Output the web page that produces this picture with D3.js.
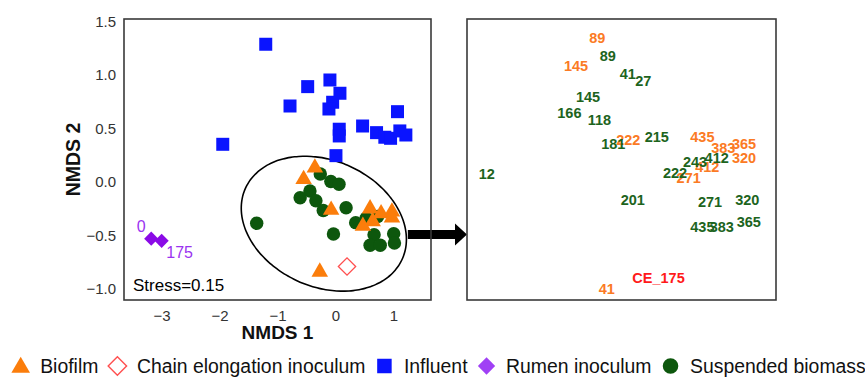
<!DOCTYPE html>
<html>
<head>
<meta charset="utf-8">
<script src="https://cdn.jsdelivr.net/npm/d3@7"></script>
<style>
  body { margin: 0; background: #fff; }
  svg { display: block; font-family: "Liberation Sans", Arial, sans-serif; }
</style>
</head>
<body>
<svg id="chart" width="865" height="377"></svg>
<script>
// ---- data (NMDS scores) ----
const biofilmLabels = ['89', '145', '222', '435', '383', '365', '320', '412', '271', '41'];
const biofilmX = [-0.355, -0.549, -0.074, 0.598, 0.788, 0.976, 0.976, 0.643, 0.474, -0.270];
const biofilmY = [0.143, 0.035, -0.253, -0.240, -0.285, -0.269, -0.324, -0.359, -0.402, -0.831];

const suspendedLabels = ['89', '41', '27', '145', '166', '118', '181', '215', '12', '243', '412', '222', '201', '271', '320', '365', '435', '383'];
const suspendedX = [-0.261, -0.079, 0.062, -0.440, -0.609, -0.337, -0.210, 0.184, -1.359, 0.531, 0.728, 0.350, -0.034, 0.667, 1.006, 1.019, 0.598, 0.774];
const suspendedY = [0.075, 0.004, -0.022, -0.085, -0.147, -0.175, -0.266, -0.240, -0.386, -0.338, -0.322, -0.380, -0.487, -0.493, -0.484, -0.571, -0.591, -0.591];

const influentX = [-1.203, -0.479, -0.095, 0.078, -0.048, -0.112, -0.784, -1.945, 0.066, 0.066, 0.009, 0.469, 0.710, 0.853, 0.952, 1.072, 1.112, 1.216];
const influentY = [1.287, 0.891, 0.953, 0.829, 0.745, 0.682, 0.710, 0.352, 0.493, 0.430, 0.246, 0.523, 0.461, 0.418, 0.408, 0.657, 0.477, 0.439];

const rumenLabels = ['0', '175'];
const rumenX = [-3.18, -3.0];
const rumenY = [-0.53, -0.55];

const ceLabels = ['CE_175'];
const ceX = [0.2];
const ceY = [-0.79];

const xTicks = [-3, -2, -1, 0, 1];
const yTicks = [-1, -0.5, 0, 0.5, 1, 1.5];
const stressText = 'Stress=0.15';
const legendNames = ['Biofilm', 'Chain elongation inoculum', 'Influent', 'Rumen inoculum', 'Suspended biomass'];

// ellipse around the zoomed group, in NMDS units (centre + two half axes)
const ellipseCentre = [-0.2, -0.39];
const ellipseAxisA = [1.354, -0.330];
const ellipseAxisB = [-0.446, -0.537];
const arrowFrom = [1.25, -0.49];

// ---- layout ----
const LEFT = { left: 124, right: 431, top: 19, bottom: 300 };
const RIGHT = { left: 467, right: 776, top: 19, bottom: 300 };

const COLORS = {
  biofilm: '#fb7d0b',
  biofilmText: '#fb7a24',
  ce: '#ff4f4f',
  ceText: '#ff1a1a',
  influent: '#0a14ff',
  rumen: '#8a0ae6',
  rumenLegend: '#a040f5',
  rumenText: '#9a33f0',
  suspended: '#0d570d',
  suspendedText: '#1d641d'
};

const svg = d3.select('#chart');
svg.append('rect').attr('width', 865).attr('height', 377).attr('fill', '#fff');

const x = d3.scaleLinear().domain([-3.65, 1.65]).range([LEFT.left, LEFT.right]);
const y = d3.scaleLinear().domain([1.523, -1.103]).range([LEFT.top, LEFT.bottom]);
const xZoom = d3.scaleLinear().domain([-1.538, 1.266]).range([RIGHT.left, RIGHT.right]);
const yZoom = d3.scaleLinear().domain([0.218, -0.876]).range([RIGHT.top, RIGHT.bottom]);

const zip = (xs, ys, labels) => xs.map((v, i) => ({ x: v, y: ys[i], label: labels ? labels[i] : null }));
const biofilm = zip(biofilmX, biofilmY, biofilmLabels);
const suspended = zip(suspendedX, suspendedY, suspendedLabels);
const influent = zip(influentX, influentY);
const rumen = zip(rumenX, rumenY, rumenLabels);
const ce = zip(ceX, ceY, ceLabels);

// ---- left panel axes ----
const axisY = svg.append('g')
  .attr('transform', `translate(${LEFT.left},0)`)
  .call(d3.axisLeft(y).tickValues(yTicks).tickFormat(d3.format('.1f')).tickSize(0).tickPadding(8));
axisY.select('.domain').remove();
axisY.selectAll('text').attr('font-size', 15).attr('fill', '#333').attr('font-family', null);

const axisX = svg.append('g')
  .attr('transform', `translate(0,${LEFT.bottom})`)
  .call(d3.axisBottom(x).tickValues(xTicks).tickFormat(d3.format('d')).tickSize(0).tickPadding(10));
axisX.select('.domain').remove();
axisX.selectAll('text').attr('font-size', 15).attr('fill', '#333').attr('font-family', null);

svg.append('text')
  .attr('transform', `translate(73,${(LEFT.top + LEFT.bottom) / 2}) rotate(-90)`)
  .attr('text-anchor', 'middle').attr('dy', '0.35em')
  .attr('font-size', 19.5).attr('font-weight', 'bold').attr('fill', '#111')
  .text('NMDS 2');

svg.append('text')
  .attr('x', (LEFT.left + LEFT.right) / 2).attr('y', 338.5)
  .attr('text-anchor', 'middle')
  .attr('font-size', 19).attr('font-weight', 'bold').attr('fill', '#111')
  .text('NMDS 1');

// ---- ellipse + arrow ----
const ellipsePts = d3.range(0, 361, 3).map(deg => {
  const t = deg * Math.PI / 180;
  return [
    ellipseCentre[0] + Math.cos(t) * ellipseAxisA[0] + Math.sin(t) * ellipseAxisB[0],
    ellipseCentre[1] + Math.cos(t) * ellipseAxisA[1] + Math.sin(t) * ellipseAxisB[1]
  ];
});
svg.append('path')
  .attr('d', d3.line().x(d => x(d[0])).y(d => y(d[1])).curve(d3.curveCardinalClosed)(ellipsePts.slice(0, -1)))
  .attr('fill', 'none').attr('stroke', '#000').attr('stroke-width', 1.6);

// ---- left panel markers ----
const sym = (type, size) => d3.symbol().type(type).size(size)();

const markers = svg.append('g');
markers.selectAll('.influent').data(influent).join('path')
  .attr('class', 'influent')
  .attr('d', sym(d3.symbolSquare, 169))
  .attr('transform', d => `translate(${x(d.x)},${y(d.y)})`)
  .attr('fill', COLORS.influent);

markers.selectAll('.suspended').data(suspended).join('path')
  .attr('class', 'suspended')
  .attr('d', sym(d3.symbolCircle, 142))
  .attr('transform', d => `translate(${x(d.x)},${y(d.y)})`)
  .attr('fill', COLORS.suspended);

markers.selectAll('.biofilm').data(biofilm).join('path')
  .attr('class', 'biofilm')
  .attr('d', sym(d3.symbolTriangle, 118))
  .attr('transform', d => `translate(${x(d.x)},${y(d.y) + 1})`)
  .attr('fill', COLORS.biofilm);

markers.selectAll('.ce').data(ce).join('path')
  .attr('class', 'ce')
  .attr('d', sym(d3.symbolSquare, 150))
  .attr('transform', d => `translate(${x(d.x)},${y(d.y)}) rotate(45)`)
  .attr('fill', 'none').attr('stroke', COLORS.ce).attr('stroke-width', 1.3);

markers.selectAll('.rumen').data(rumen).join('path')
  .attr('class', 'rumen')
  .attr('d', sym(d3.symbolSquare, 100))
  .attr('transform', d => `translate(${x(d.x)},${y(d.y)}) rotate(45)`)
  .attr('fill', COLORS.rumen);

const rumenOffsets = [[-10, -12], [18, 12]];
svg.selectAll('.rumen-label').data(rumen).join('text')
  .attr('class', 'rumen-label')
  .attr('x', (d, i) => x(d.x) + rumenOffsets[i][0])
  .attr('y', (d, i) => y(d.y) + rumenOffsets[i][1])
  .attr('dy', '0.35em').attr('text-anchor', 'middle')
  .attr('font-size', 16).attr('fill', COLORS.rumenText)
  .text(d => d.label);

svg.append('text')
  .attr('x', LEFT.left + 9).attr('y', LEFT.bottom - 9)
  .attr('font-size', 17).attr('fill', '#000')
  .text(stressText);

// arrow from ellipse to zoom panel
const ax0 = x(arrowFrom[0]), ay = y(arrowFrom[1]);
const tip = RIGHT.left;
svg.append('path')
  .attr('d', `M${ax0},${ay - 4.5}H${tip - 12}V${ay - 11}L${tip},${ay}L${tip - 12},${ay + 11}V${ay + 4.5}H${ax0}Z`)
  .attr('fill', '#000');

// panel frames
[LEFT, RIGHT].forEach(p => {
  svg.append('rect')
    .attr('x', p.left).attr('y', p.top)
    .attr('width', p.right - p.left).attr('height', p.bottom - p.top)
    .attr('fill', 'none').attr('stroke', '#3a3a3a').attr('stroke-width', 1.6);
});

// ---- right (zoomed) panel labels ----
const zoomLabels = svg.append('g')
  .attr('font-size', 14.5).attr('font-weight', 'bold').attr('text-anchor', 'middle');

zoomLabels.selectAll('.bl').data(biofilm).join('text')
  .attr('class', 'bl')
  .attr('x', d => xZoom(d.x)).attr('y', d => yZoom(d.y)).attr('dy', '0.36em')
  .attr('fill', COLORS.biofilmText)
  .text(d => d.label);

zoomLabels.selectAll('.sl').data(suspended).join('text')
  .attr('class', 'sl')
  .attr('x', d => xZoom(d.x)).attr('y', d => yZoom(d.y)).attr('dy', '0.36em')
  .attr('fill', COLORS.suspendedText)
  .text(d => d.label);

zoomLabels.selectAll('.cl').data(ce).join('text')
  .attr('class', 'cl')
  .attr('x', d => xZoom(d.x)).attr('y', d => yZoom(d.y)).attr('dy', '0.36em')
  .attr('fill', COLORS.ceText)
  .text(d => d.label);

// ---- legend ----
const legendSymbols = [
  { name: legendNames[0], type: d3.symbolTriangle, size: 150, fill: COLORS.biofilm, rot: 0, dy: 1.5 },
  { name: legendNames[1], type: d3.symbolSquare, size: 170, fill: 'none', stroke: COLORS.ce, rot: 45, dy: 0 },
  { name: legendNames[2], type: d3.symbolSquare, size: 210, fill: COLORS.influent, rot: 0, dy: 0 },
  { name: legendNames[3], type: d3.symbolSquare, size: 150, fill: COLORS.rumenLegend, rot: 45, dy: 0 },
  { name: legendNames[4], type: d3.symbolCircle, size: 190, fill: COLORS.suspended, rot: 0, dy: 0 }
];
const legend = svg.append('g');
const legendY = 366;
let cursor = 11.7;
legendSymbols.forEach(item => {
  legend.append('path')
    .attr('d', sym(item.type, item.size))
    .attr('transform', `translate(${cursor + 9},${legendY + item.dy}) rotate(${item.rot})`)
    .attr('fill', item.fill)
    .attr('stroke', item.stroke || 'none').attr('stroke-width', 1.4);
  const t = legend.append('text')
    .attr('x', cursor + 28.5).attr('y', legendY + 7.3)
    .attr('font-size', 19.4).attr('fill', '#111')
    .text(item.name);
  cursor = cursor + 28.5 + t.node().getComputedTextLength() + 10;
});
</script>
</body>
</html>
